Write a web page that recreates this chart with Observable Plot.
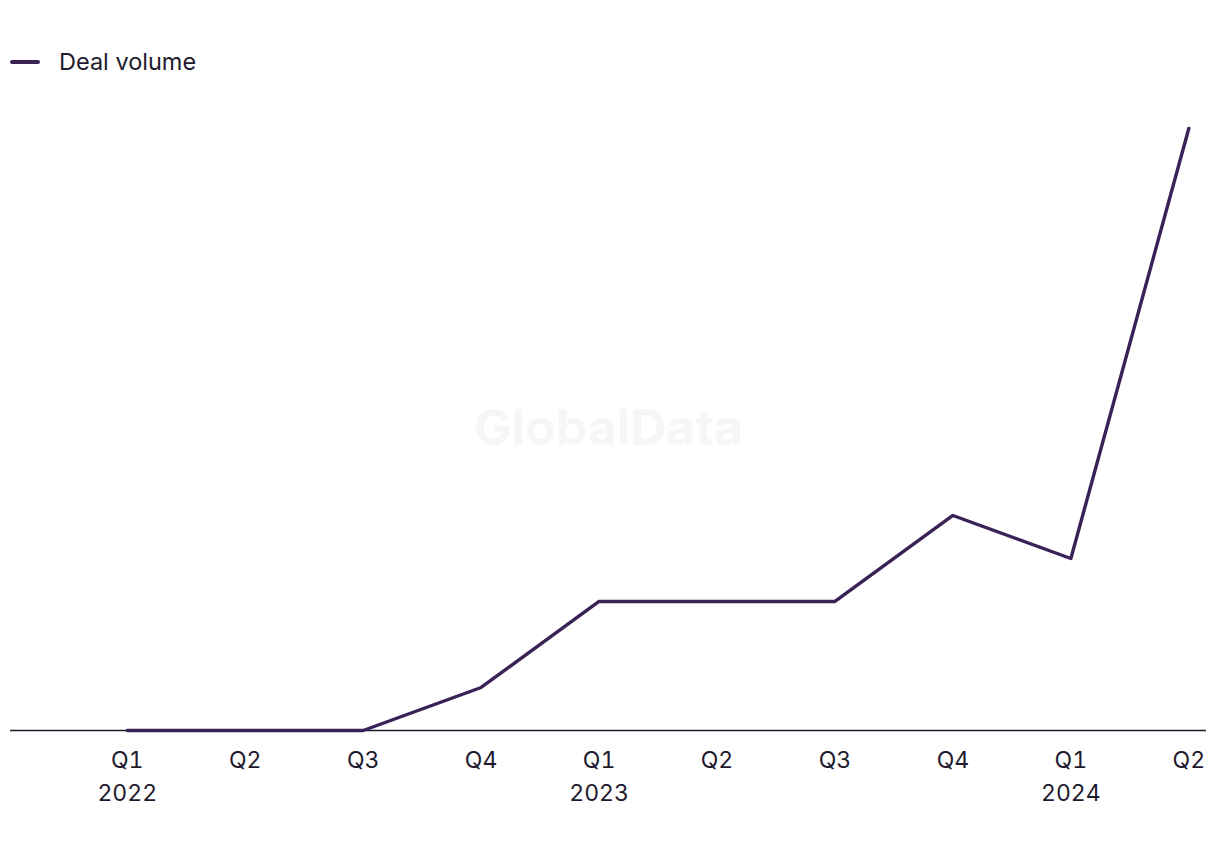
<!DOCTYPE html>
<html>
<head>
<meta charset="utf-8">
<script src="https://cdn.jsdelivr.net/npm/d3@7"></script>
<script src="https://cdn.jsdelivr.net/npm/@observablehq/plot@0.6"></script>
<style>
  body { margin: 0; background: #fff; font-family: Inter, "Noto Sans", sans-serif; color: #1e1a2e; }
  #legend { height: 100px; position: relative; }
  #legend .sw { position: absolute; left: 10px; top: 60px; width: 30px; height: 4px; background: #3a2156; border-radius: 2px; }
  #legend .lb { position: absolute; left: 59px; top: 47px; font-size: 23.5px; line-height: 30px; }
</style>
</head>
<body>
<div id="legend"><span class="sw"></span><span class="lb">Deal volume</span></div>
<div id="chart"></div>
<script>
const quarters = ["Q1", "Q2", "Q3", "Q4", "Q1", "Q2", "Q3", "Q4", "Q1", "Q2"];
const years = ["2022", "", "", "", "2023", "", "", "", "2024", ""];
const dealVolume = [0, 0, 0, 1, 3, 3, 3, 5, 4, 14];

const data = dealVolume.map((v, i) => ({i, v}));
const tickLabels = quarters.map((q, i) => years[i] ? q + "\n" + years[i] : q);

const chart = Plot.plot({
  width: 1220,
  height: 750,
  marginLeft: 10,
  marginRight: 14,
  marginTop: 0,
  marginBottom: 120,
  style: {fontFamily: "Inter, 'Noto Sans', sans-serif", color: "#1e1a2e", background: "#fff"},
  x: {type: "linear", domain: [-0.99, 9.15], axis: null},
  y: {domain: [0, 14.65], axis: null},
  marks: [
    Plot.text(["GlobalData"], {frameAnchor: "middle", dy: 13, fontSize: 50, fontWeight: "bold", fill: "#f6f6f6"}),
    Plot.ruleY([0], {stroke: "#1e1a2e", strokeWidth: 1.5}),
    Plot.line(data, {x: "i", y: "v", stroke: "#3a2156", strokeWidth: 3.4}),
    Plot.axisX(d3.range(quarters.length), {
      label: null, tickSize: 0, tickPadding: 15, fontSize: 23, lineHeight: 1.4,
      tickFormat: i => tickLabels[i], fill: "#1e1a2e", textAnchor: "middle", lineAnchor: "top"
    })
  ]
});
document.getElementById("chart").appendChild(chart);
</script>
</body>
</html>
